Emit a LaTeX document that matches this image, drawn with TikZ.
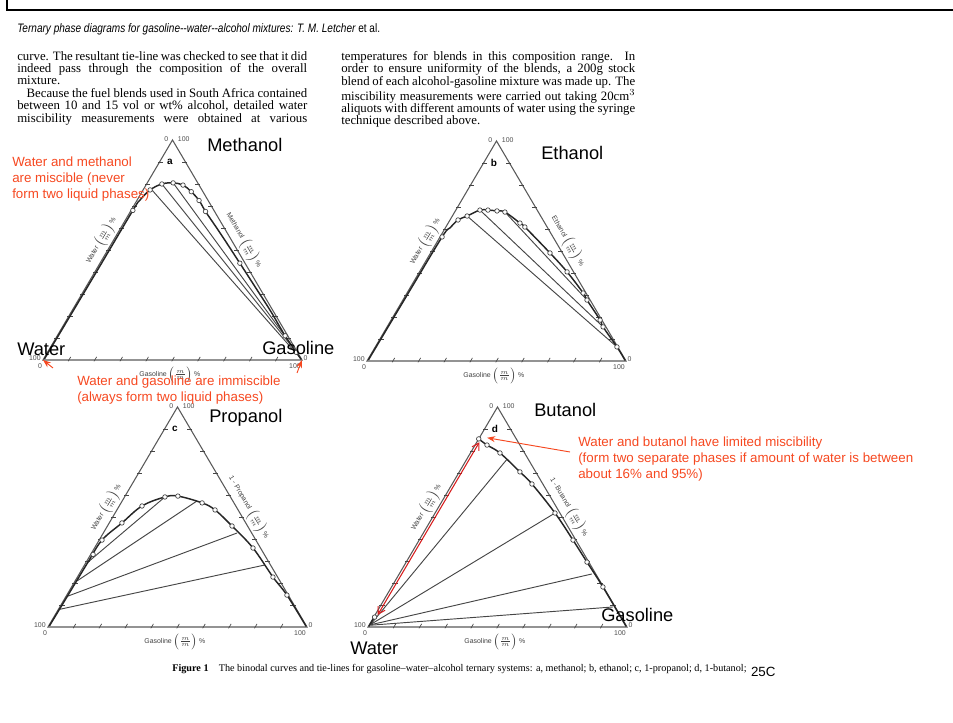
\documentclass[tikz,border=0pt]{standalone}
\usepackage{fontspec}
\setmainfont{Liberation Serif}
\setsansfont{Liberation Sans}
\newfontfamily\estreita[FakeStretch=0.82]{Liberation Sans}
\usetikzlibrary{arrows.meta, positioning}
\usepackage{xcolor}
\definecolor{vermelho}{RGB}{246, 72, 32}
\definecolor{grafite}{RGB}{70, 70, 70}
\definecolor{setared}{RGB}{215, 30, 30}
\tikzset{
  ternario/.style={x={(1.9425pt,0pt)}, y={(0.97125pt,1.65pt)}},
  eixo/.style={draw=grafite!90, line width=0.8pt},
  marca/.style={draw=grafite, line width=0.5pt},
  binodal/.style={draw=black!85, line width=1.1pt},
  amarracao/.style={draw=grafite, line width=0.7pt},
  ponto/.style={circle, draw=black!75, fill=white, line width=0.5pt, inner sep=0pt, minimum size=3.4pt},
  numero/.style={font=\sffamily\fontsize{5.2}{5.2}\selectfont, text=black!70, inner sep=0.5pt},
  eixotexto/.style={font=\sffamily\fontsize{5.2}{6}\selectfont, text=black!75, inner sep=1.5pt},
  letra/.style={font=\sffamily\bfseries\fontsize{7.5}{8}\selectfont, inner sep=0pt},
  componente/.style={font=\sffamily\fontsize{13.7}{15}\selectfont, inner sep=0pt, anchor=base west},
  nota/.style={font=\sffamily\fontsize{10}{12}\selectfont, text=vermelho, align=left, inner sep=0pt, anchor=north west},
  seta/.style={-{Stealth[length=6pt, width=4.5pt]}, draw=vermelho, line width=0.7pt},
  setadupla/.style={{Straight Barb[length=5pt, width=6pt]}-{Straight Barb[length=5pt, width=6pt]}, draw=setared, line width=0.8pt},
  corpo/.style={font=\fontsize{9.6}{9.3}\selectfont, align=left, inner sep=0pt, anchor=north west},
}
% moldura do diagrama ternario: #1 eixo do alcool, #2 letra, #3 prefixo dos nomes
\newcommand{\moldura}[3]{%
  \draw[eixo] (0,0) coordinate (#3W) -- (100,0) coordinate (#3G) -- (0,100) coordinate (#3A) -- cycle;
  \foreach \k in {10,20,...,90}{
    \draw[marca] (\k,-0.6) -- (\k,1.4);
    \draw[marca] (-0.6,\k) -- (1.4,\k);
    \draw[marca] (100.6-\k,\k) -- (98.6-\k,\k);
  }
  \node[numero, anchor=south east] (#3n1) at (-0.3,-0.5) {100};
  \node[numero, anchor=north east] (#3n2) at (0.6,-1.2) {0};
  \node[numero, anchor=south west] (#3n3) at (100.5,-0.5) {0};
  \node[numero, anchor=north east] (#3n4) at (100.5,-1.2) {100};
  \node[numero, anchor=east] (#3n5) at (-1.5,100.5) {0};
  \node[numero, anchor=west] (#3n6) at (1.5,100.5) {100};
  \node[eixotexto, anchor=north] (#3eg) at (50,-2) {Gasoline $\left(\frac{m}{m}\right)$ \%};
  \node[eixotexto, rotate=59.5, anchor=south] (#3ew) at (0,52) {Water $\left(\frac{m}{m}\right)$ \%};
  \node[eixotexto, rotate=-59.5, anchor=south] (#3ea) at (48,52) {#1 $\left(\frac{m}{m}\right)$ \%};
  \node[letra] (#3letra) at (4,90) {#2};
}

\begin{document}
\begin{tikzpicture}[x=0.75pt, y=0.75pt]
  \useasboundingbox (0,0) rectangle (953,723);
  \draw[line width=2.2pt] (7,723) -- (7,713) -- (953,713);

  % pagina do artigo
  \node[anchor=base west, inner sep=0pt] (cabecalho) at (17,690)
    {\estreita\fontsize{9.2}{10}\selectfont\itshape Ternary phase diagrams for gasoline--water--alcohol mixtures: T. M. Letcher \upshape et al.};
  \node[corpo] (colEsq) at (17,672) {%
    \makebox[217.5pt][s]{curve. The resultant tie-line was checked to see that it did}\\
    \makebox[217.5pt][s]{indeed pass through the composition of the overall}\\
    mixture.\\
    \makebox[217.5pt][s]{\hspace{7pt}Because the fuel blends used in South Africa contained}\\
    \makebox[217.5pt][s]{between 10 and 15 vol or wt\% alcohol, detailed water}\\
    \makebox[217.5pt][s]{miscibility measurements were obtained at various}};
  \node[corpo] (colDir) at (341,672) {%
    \makebox[220.5pt][s]{temperatures for blends in this composition range. In}\\
    \makebox[220.5pt][s]{order to ensure uniformity of the blends, a 200g stock}\\
    \makebox[220.5pt][s]{blend of each alcohol-gasoline mixture was made up. The}\\
    \makebox[220.5pt][s]{miscibility measurements were carried out taking 20cm$^3$}\\
    \makebox[220.5pt][s]{aliquots with different amounts of water using the syringe}\\
    technique described above.};

  % a: metanol
  \begin{scope}[shift={(43,363)}, ternario]
    \moldura{Methanol}{a}{m}
    \draw[amarracao] (3.4,77.3) -- (95.5,3.6);
    \draw[amarracao] (5.9,80) -- (92,7);
    \draw[amarracao] (10,80.5) -- (89,10);
    \draw[binodal] plot[smooth, tension=0.6] coordinates {(0.3,0.5) (0.6,40) (0.7,68) (1.1,72.7) (2.7,77.3) (5.9,80) (10,80.5) (14.3,79.5) (19,76.5) (24,72.5) (29,67.5) (36,61) (44,53.5) (54,44) (65,33.5) (77,22) (88,11) (99.5,0.3)};
    \foreach \g/\a [count=\i] in {0.7/68, 2.7/77.3, 5.9/80, 10/80.5, 14.3/79.5, 19/76.5, 24/72.5, 29/67.5, 54/44, 88/11, 96/3.5}
      \node[ponto] (mP\i) at (\g,\a) {};
  \end{scope}

  % b: etanol
  \begin{scope}[shift={(367,362)}, ternario]
    \moldura{Ethanol}{b}{e}
    \draw[amarracao] (5.7,65.9) -- (93.3,6.4);
    \draw[amarracao] (9.3,68.6) -- (83.4,15.5);
    \draw[amarracao] (19.4,67.7) -- (71.1,27.7);
    \draw[binodal] plot[smooth, tension=0.6] coordinates {(0.3,0.5) (0.5,30) (0.8,56.4) (1.8,60.5) (3.1,64.1) (5.7,65.9) (9.3,68.6) (12.4,68.6) (16.1,68.2) (19.4,67.7) (27.7,62.7) (30.5,60.9) (46.1,49.1) (57,40.5) (68,30.9) (71.1,27.7) (80.7,18.6) (83.4,15.5) (93.3,6.4) (99.5,0.3)};
    \foreach \g/\a [count=\i] in {0.8/56.4, 3.1/64.1, 5.7/65.9, 9.3/68.6, 12.4/68.6, 16.1/68.2, 19.4/67.7, 27.7/62.7, 30.5/60.9, 46.1/49.1, 57/40.5, 68/30.9, 71.1/27.7, 80.7/18.6, 83.4/15.5, 93.3/6.4}
      \node[ponto] (eP\i) at (\g,\a) {};
  \end{scope}

  % c: 1-propanol
  \begin{scope}[shift={(48,96)}, ternario]
    \moldura{1 - Propanol}{c}{p}
    \draw[amarracao] (15.6,59.1) -- (0.7,29.5);
    \draw[amarracao] (28.9,57.3) -- (0.8,21);
    \draw[amarracao] (51.6,42.7) -- (0.6,14);
    \draw[amarracao] (69.7,28.2) -- (0.4,8);
    \draw[binodal] plot[smooth, tension=0.6] coordinates {(0.3,0.5) (0.5,15) (0.7,29.5) (1.1,39.5) (4.9,47.3) (8.8,55) (15.6,59.1) (20.4,59.5) (31.3,56.4) (37.9,53.2) (48.1,45.9) (61.2,35.9) (75.5,22.7) (85,14.5) (99.5,0.3)};
    \foreach \g/\a [count=\i] in {0.9/33, 1.1/39.5, 4.9/47.3, 8.8/55, 15.6/59.1, 20.4/59.5, 31.3/56.4, 37.9/53.2, 48.1/45.9, 61.2/35.9, 75.5/22.7, 85/14.5}
      \node[ponto] (pP\i) at (\g,\a) {};
  \end{scope}

  % d: 1-butanol
  \begin{scope}[shift={(368,96)}, ternario]
    \moldura{1 - Butanol}{d}{b}
    \draw[amarracao] (0.5,1.5) -- (15.5,76);
    \draw[amarracao] (0.5,1.2) -- (46.3,51.8);
    \draw[amarracao] (0.5,1) -- (74.4,24.1);
    \draw[amarracao] (0.5,0.8) -- (90,9.1);
    \draw[binodal] plot[smooth, tension=0.6] coordinates {(0,85.5) (4.6,82.7) (11.4,79.1) (23.4,70.5) (30.8,65) (46.3,51.8) (59.4,39.5) (69.8,29.5) (81.6,18.2) (99.5,0.3)};
    \draw[binodal] (0.2,0.3) -- (0.2,4.5);
    \foreach \g/\a [count=\i] in {0/85.5, 4.6/82.7, 11.4/79.1, 23.4/70.5, 30.8/65, 46.3/51.8, 59.4/39.5, 69.8/29.5, 81.6/18.2, 0.3/4.5}
      \node[ponto] (bP\i) at (\g,\a) {};
    \draw[setadupla] (1,84) -- (1,5.5);
    \coordinate (butTopo) at (3,86);
  \end{scope}

  % nomes dos componentes
  \node[componente] (rotMet) at (207,571) {Methanol};
  \node[componente] (rotAguaA) at (17,367) {Water};
  \node[componente] (rotGasA) at (262,368) {Gasoline};
  \node[componente] (rotEt) at (541,563) {Ethanol};
  \node[componente] (rotProp) at (209,300) {Propanol};
  \node[componente] (rotBut) at (534,306) {Butanol};
  \node[componente] (rotGasD) at (601,101) {Gasoline};
  \node[componente] (rotAguaD) at (350,68) {Water};

  % notas em vermelho
  \node[nota] (notaMet) at (12,566) {Water and methanol\\are miscible (never\\form two liquid phases)};
  \node[nota] (notaGas) at (77,347) {Water and gasoline are immiscible\\(always form two liquid phases)};
  \node[nota] (notaBut) at (578,286) {Water and butanol have limited miscibility\\(form two separate phases if amount of water is between\\about 16\% and 95\%)};
  \coordinate (aguaCauda) at (53,355);
  \coordinate (gasCauda) at (297,350);
  \coordinate (butCauda) at (570,271);
  \draw[seta] (aguaCauda) -- (mW);
  \draw[seta] (gasCauda) -- (mG);
  \draw[seta] (butCauda) -- (butTopo);

  % legenda da figura
  \node[anchor=base west, inner sep=0pt, font=\fontsize{7.65}{8}\selectfont] (legenda) at (172,51)
    {\textbf{Figure 1}\quad The binodal curves and tie-lines for gasoline--water--alcohol ternary systems: a, methanol; b, ethanol; c, 1-propanol; d, 1-butanol;};
  \node[anchor=base west, inner sep=0pt, font=\sffamily\fontsize{10}{12}\selectfont, right=3pt of legenda.base east] (temp) {25C};
\end{tikzpicture}
\end{document}
